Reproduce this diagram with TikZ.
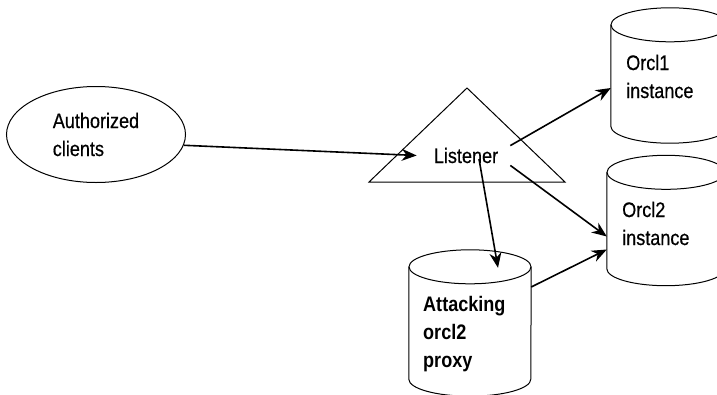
\documentclass[tikz,border=0pt]{standalone}
\usepackage{fontspec}
\setmainfont{Liberation Sans}[FakeStretch=0.86,UprightFeatures={FakeBold=0.5}]
\usetikzlibrary{arrows.meta,positioning,shapes.geometric}
\newcommand{\dbshape}[2]{%
	\draw[line width=1pt] ([yshift=-17pt]#1.north west)--([yshift=17pt]#1.south west)
		arc[start angle=180,end angle=360,x radius=#2,y radius=17pt]--([yshift=-17pt]#1.north east);
	\draw[line width=1pt] ([yshift=-17pt]#1.north) ellipse[x radius=#2,y radius=17pt];}
\tikzset{
	db/.style={rectangle,inner sep=0pt},
	lbl/.style={align=left,inner sep=0pt,font=\fontsize{21}{28}\selectfont},
	link/.style={->,line width=1.6pt}
}
\begin{document}
\begin{tikzpicture}[x=1pt,y=-1pt,>={Stealth[length=15pt,width=12pt]}]
		\useasboundingbox (0,0) rectangle (717,394);
		\clip (0,0) rectangle (717,394);
		\node[draw,ellipse,line width=1pt,minimum width=179pt,minimum height=96pt,lbl] (clients) at (96,134.5) {Authorized\\clients};
		\draw[line width=1pt] (369,182)--(467,88)--(565,182)--cycle;
		\node[lbl,anchor=base] (listener) at (466,163) {Listener};
		\node[db,minimum width=118pt,minimum height=135pt] (orclone) at (670,75.5) {};
		\node[db,minimum width=118pt,minimum height=130pt] (orcltwo) at (666,220.5) {};
		\node[db,minimum width=122pt,minimum height=146pt] (attack) at (470,323) {};
		\dbshape{orclone}{59pt}
		\dbshape{orcltwo}{59pt}
		\dbshape{attack}{61pt}
		\node[lbl,anchor=base west] (orcloneText) at (626,98) {Orcl1\\instance};
		\node[lbl,anchor=base west] (orcltwoText) at (622,245) {Orcl2\\instance};
		\node[lbl,anchor=base west,font=\fontsize{21}{28}\selectfont\bfseries] (attackText) at (423,367) {Attacking\\orcl2\\proxy};
		\draw[link] (clients.-7)--([xshift=-17pt]listener.west);
		\draw[link] ([shift={(12pt,2pt)}]listener.north east)--([yshift=-12.5pt]orclone.west);
		\draw[link] ([shift={(12pt,-2pt)}]listener.south east)--([yshift=-16pt]orcltwo.west);
		\draw[link] ([shift={(13pt,4pt)}]listener.base)--([shift={(28pt,-18pt)}]attack.north);
		\draw[link] ([yshift=36pt]attack.east)--([yshift=-29pt]orcltwo.west);
	\end{tikzpicture}
\end{document}
